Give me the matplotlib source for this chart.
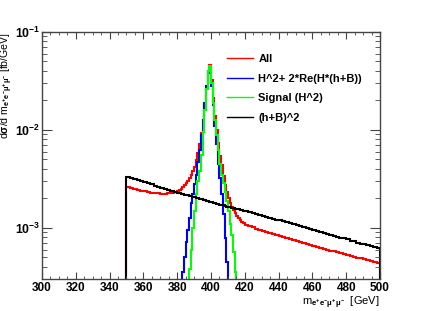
import numpy as np
import matplotlib
matplotlib.use("Agg")
import matplotlib.pyplot as plt
from matplotlib.ticker import MultipleLocator, LogLocator, NullFormatter

plt.rcParams['font.family'] = ['Liberation Sans', 'DejaVu Sans']
plt.rcParams['font.weight'] = 'bold'
plt.rcParams['mathtext.fontset'] = 'custom'
plt.rcParams['mathtext.rm'] = 'Liberation Sans:bold'
plt.rcParams['mathtext.bf'] = 'Liberation Sans:bold'
plt.rcParams['mathtext.it'] = 'Liberation Sans:bold'
plt.rcParams['mathtext.default'] = 'bf'

# bin edges: 2 GeV below 380, 1 GeV across the peak, 2 GeV above 420
edges = np.concatenate([np.arange(350, 380, 2), np.arange(380, 420, 1), np.arange(420, 501, 2)])
peak_edges = np.arange(380, 421, 1)

# All
all_low = [2.62e-3, 2.56e-3, 2.50e-3, 2.45e-3, 2.40e-3, 2.36e-3, 2.32e-3, 2.29e-3,
           2.26e-3, 2.25e-3, 2.24e-3, 2.24e-3, 2.25e-3, 2.27e-3, 2.31e-3]
all_peak = [2.35e-3, 2.42e-3, 2.50e-3, 2.60e-3, 2.72e-3, 2.85e-3, 3.0e-3, 3.2e-3,
            3.45e-3, 3.8e-3, 4.2e-3, 4.9e-3, 5.75e-3, 7.1e-3, 9.3e-3, 1.26e-2,
            1.8e-2, 2.6e-2, 3.8e-2, 4.6e-2,
            3.2e-2, 2.1e-2, 1.4e-2, 1.0e-2, 7.4e-3, 5.4e-3, 4.4e-3, 3.4e-3,
            2.75e-3, 2.3e-3, 2.0e-3, 1.78e-3, 1.62e-3, 1.51e-3, 1.41e-3, 1.32e-3,
            1.26e-3, 1.20e-3, 1.15e-3, 1.12e-3]
all_high = [1.08e-3, 1.05e-3, 1.01e-3, 9.8e-4, 9.4e-4, 9.3e-4, 9.0e-4, 8.8e-4,
            8.6e-4, 8.45e-4, 8.2e-4, 8.0e-4, 7.9e-4, 7.65e-4, 7.5e-4, 7.35e-4,
            7.1e-4, 7.0e-4, 6.85e-4, 6.65e-4, 6.55e-4, 6.4e-4, 6.2e-4, 6.1e-4,
            5.95e-4, 5.85e-4, 5.75e-4, 5.6e-4, 5.5e-4, 5.4e-4, 5.25e-4, 5.2e-4,
            5.05e-4, 4.95e-4, 4.9e-4, 4.8e-4, 4.65e-4, 4.6e-4, 4.45e-4, 4.35e-4]

# H^2 + 2*Re(H*(h+B)), 1 GeV bins 380-420
interf = [1e-4, 1e-4, 1e-4, 3.5e-4, 5.0e-4, 7.1e-4, 9.5e-4, 1.26e-3,
          1.8e-3, 2.2e-3, 2.8e-3, 3.5e-3, 4.7e-3, 6.3e-3, 8.9e-3, 1.26e-2,
          1.9e-2, 2.8e-2, 3.8e-2, 4.3e-2,
          2.8e-2, 1.8e-2, 1.1e-2, 7.1e-3, 4.5e-3, 3.2e-3, 2.2e-3, 1.4e-3,
          7.9e-4, 4.5e-4, 1e-4, 1e-4, 1e-4, 1e-4, 1e-4, 1e-4,
          1e-4, 1e-4, 1e-4, 1e-4]

# Signal (H^2), 1 GeV bins 380-420
signal = [1e-4, 1e-4, 1e-4, 1e-4, 1e-4, 1e-4, 1e-4, 3.8e-4,
          6.0e-4, 1.0e-3, 1.5e-3, 2.2e-3, 3.0e-3, 3.8e-3, 5.6e-3, 9.5e-3,
          1.6e-2, 2.6e-2, 4.0e-2, 4.45e-2,
          3.0e-2, 1.9e-2, 1.26e-2, 8.9e-3, 6.3e-3, 4.5e-3, 3.5e-3, 2.9e-3,
          2.3e-3, 1.9e-3, 1.5e-3, 1.1e-3, 8.5e-4, 5.6e-4, 3.5e-4, 1e-4,
          1e-4, 1e-4, 1e-4, 1e-4]

# (h+B)^2
bkg_low = [3.31e-3, 3.22e-3, 3.16e-3, 3.06e-3, 2.99e-3, 2.92e-3, 2.86e-3, 2.78e-3,
           2.69e-3, 2.63e-3, 2.58e-3, 2.51e-3, 2.45e-3, 2.40e-3, 2.33e-3]
bkg_peak = [2.28e-3, 2.25e-3, 2.23e-3, 2.21e-3, 2.18e-3, 2.16e-3, 2.14e-3, 2.11e-3,
            2.09e-3, 2.07e-3, 2.04e-3, 2.02e-3, 2.00e-3, 1.97e-3, 1.95e-3, 1.93e-3,
            1.91e-3, 1.88e-3, 1.86e-3, 1.84e-3, 1.82e-3, 1.80e-3, 1.78e-3, 1.76e-3,
            1.74e-3, 1.73e-3, 1.71e-3, 1.69e-3, 1.67e-3, 1.65e-3, 1.64e-3, 1.62e-3,
            1.60e-3, 1.58e-3, 1.57e-3, 1.56e-3, 1.54e-3, 1.52e-3, 1.51e-3, 1.49e-3]
bkg_high = [1.47e-3, 1.44e-3, 1.41e-3, 1.38e-3, 1.35e-3, 1.32e-3, 1.30e-3, 1.26e-3,
            1.24e-3, 1.21e-3, 1.19e-3, 1.16e-3, 1.14e-3, 1.12e-3, 1.09e-3, 1.07e-3,
            1.04e-3, 1.02e-3, 1.00e-3, 9.8e-4, 9.5e-4, 9.35e-4, 9.1e-4, 8.9e-4,
            8.7e-4, 8.5e-4, 8.3e-4, 8.15e-4, 7.9e-4, 7.8e-4, 7.6e-4, 7.4e-4,
            7.25e-4, 7.05e-4, 6.9e-4, 6.8e-4, 6.6e-4, 6.5e-4, 6.3e-4, 6.2e-4]

labels = ["All", "H^2+ 2*Re(H*(h+B))", "Signal (H^2)", "(h+B)^2"]

all_vals = np.array(all_low + all_peak + all_high)
bkg_vals = np.array(bkg_low + bkg_peak + bkg_high)

fig = plt.figure(figsize=(4.22, 3.11), dpi=100)
ax = fig.add_axes([0.0995, 0.1029, 0.801, 0.7942])

lw = 1.5
ax.stairs(all_vals, edges, baseline=1e-6, color="#ff0000", lw=lw)
ax.stairs(interf, peak_edges, baseline=None, color="#0000ff", lw=lw)
ax.stairs(signal, peak_edges, baseline=None, color="#00ff00", lw=lw)
ax.stairs(bkg_vals, edges, baseline=1e-6, color="black", lw=lw)

ax.set_yscale("log")
ax.set_xlim(300, 500)
ax.set_ylim(3e-4, 0.1)

ax.xaxis.set_major_locator(MultipleLocator(20))
ax.xaxis.set_minor_locator(MultipleLocator(5))
ax.yaxis.set_major_locator(LogLocator(base=10))
ax.yaxis.set_minor_locator(LogLocator(base=10, subs=np.arange(2, 10)))
ax.yaxis.set_minor_formatter(NullFormatter())

ax.tick_params(which="both", direction="in", top=True, right=True, color="#444444")
ax.tick_params(axis="x", which="major", length=5, labelsize=8.5, pad=2)
ax.tick_params(axis="x", which="minor", length=2.5)
ax.tick_params(axis="y", which="major", length=7, labelsize=8.8, pad=1)
ax.tick_params(axis="y", which="minor", length=3.5)
for s in ax.spines.values():
    s.set_color("#444444")
    s.set_linewidth(1.0)

ax.set_ylabel(r"d$\sigma$/d m$_{e^{+}e^{-}\mu^{+}\mu^{-}}$ [fb/GeV]", fontsize=7.6, loc="top")
ax.yaxis.label.set_va("center")
ax.yaxis.set_label_coords(-0.103, 1.0)
ax.set_xlabel(r"m$_{e^{+}e^{-}\mu^{+}\mu^{-}}$  [GeV]", fontsize=8, loc="right")
ax.xaxis.label.set_va("center")
ax.xaxis.set_label_coords(1.0, -0.097)

handles = [plt.Line2D([], [], color=c, lw=1.0) for c in ["#ff0000", "#0000ff", "#00ff00", "black"]]
fig.legend(handles, labels, loc="upper left", bbox_to_anchor=(0.537, 0.826),
           frameon=False, fontsize=8, handlelength=2.4, handletextpad=0.45,
           labelspacing=0.86, borderpad=0, borderaxespad=0)

fig.savefig("out.png", dpi=100)
